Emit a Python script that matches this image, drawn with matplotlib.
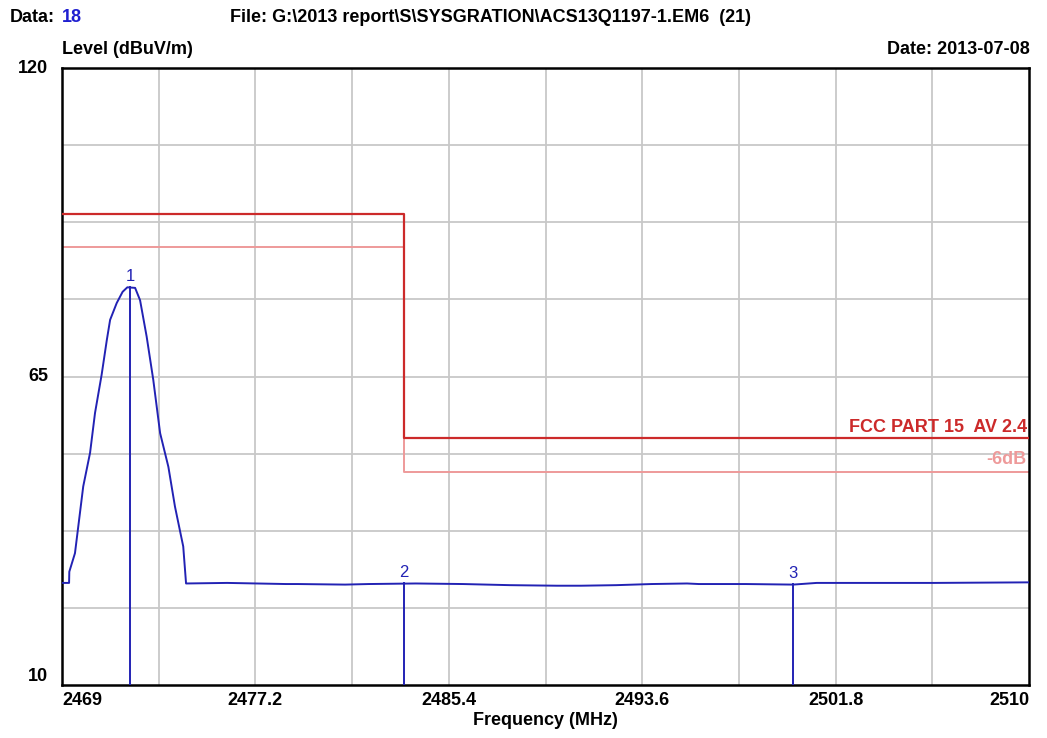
import matplotlib
matplotlib.use("Agg")
import matplotlib.pyplot as plt
import numpy as np

# ---- data ----
trace_freq = [2469.0, 2469.30, 2469.31, 2469.55, 2469.90, 2470.19, 2470.40, 2470.68, 2470.90,
              2471.04, 2471.32, 2471.57, 2471.77, 2472.10, 2472.31, 2472.59, 2472.87, 2473.16,
              2473.51, 2473.79, 2474.14, 2474.26, 2476.0, 2478.5, 2479.0, 2481.0, 2482.0,
              2484.0, 2486.0, 2488.0, 2490.0, 2491.0, 2492.5, 2494.0, 2495.5, 2496.0,
              2498.0, 2500.0, 2501.0, 2503.0, 2506.0, 2510.0]
trace_level = [28.2, 28.2, 30.2, 33.5, 45.4, 51.4, 58.5, 65.3, 71.5,
               75.1, 78.1, 80.1, 80.9, 80.8, 78.6, 72.1, 64.4, 54.9,
               48.9, 41.8, 34.7, 28.1, 28.2, 28.0, 28.0, 27.9, 28.0,
               28.1, 28.0, 27.8, 27.7, 27.7, 27.8, 28.0, 28.1, 28.0,
               28.0, 27.9, 28.2, 28.2, 28.2, 28.3]

limit_freq = [2469.0, 2483.5, 2483.5, 2510.0]
limit_level = [94.0, 94.0, 54.0, 54.0]
margin_db = 6.0

marker_names = ["1", "2", "3"]
marker_freq = [2471.88, 2483.5, 2500.0]
marker_level = [80.9, 28.1, 28.0]

x_ticks = [2469, 2477.2, 2485.4, 2493.6, 2501.8, 2510]
x_tick_labels = ["2469", "2477.2", "2485.4", "2493.6", "2501.8", "2510"]
y_ticks = [10, 65, 120]
y_tick_labels = ["10", "65", "120"]

# ---- style ----
plt.rcParams['font.family'] = ['Liberation Sans Narrow', 'Liberation Sans', 'DejaVu Sans']
BLUE = "#2222b4"
RED = "#cc2a2a"
PINK = "#ee9a9a"
GRID = "#c8c8c8"

fig = plt.figure(figsize=(10.47, 7.38), dpi=100)
ax = fig.add_axes([62/1047, 1-685/738, (1029-62)/1047, (685-68)/738])

xmin, xmax, ymin, ymax = 2469, 2510, 10, 120
ax.set_xlim(xmin, xmax)
ax.set_ylim(ymin, ymax)

for gx in np.linspace(xmin, xmax, 11)[1:-1]:
    ax.axvline(gx, color=GRID, lw=1.3, zorder=1)
for gy in np.linspace(ymin, ymax, 9)[1:-1]:
    ax.axhline(gy, color=GRID, lw=1.3, zorder=1)

ax.plot(limit_freq, limit_level, color=RED, lw=1.6, zorder=3)
ax.plot(limit_freq, [v - margin_db for v in limit_level], color=PINK, lw=1.4, zorder=2)

ax.plot(trace_freq, trace_level, color=BLUE, lw=1.4, zorder=4)

for name, f, lv in zip(marker_names, marker_freq, marker_level):
    ax.plot([f, f], [ymin, lv], color=BLUE, lw=1.4, zorder=4)
    ax.text(f, lv + 0.6, name, color=BLUE, fontsize=12, ha="center", va="bottom",
            family=['Liberation Sans', 'DejaVu Sans'], zorder=5)

ax.text(xmax - 0.1, limit_level[-1] + 0.4, "FCC PART 15  AV 2.4", color=RED,
        fontsize=13, fontweight="bold", ha="right", va="bottom")
ax.text(xmax - 0.1, limit_level[-1] - margin_db + 0.6, "-6dB", color=PINK,
        fontsize=13, fontweight="bold", ha="right", va="bottom")

ax.set_xticks(x_ticks)
ax.set_xticklabels(x_tick_labels, fontsize=13, fontweight="bold")
labs = ax.get_xticklabels()
labs[0].set_ha("left")
labs[-1].set_ha("right")
ax.set_yticks(y_ticks)
ax.set_yticklabels(y_tick_labels, fontsize=13, fontweight="bold")
ax.tick_params(axis="both", length=0, pad=5)
ax.tick_params(axis="y", pad=10)
ylabs = ax.get_yticklabels()
ylabs[0].set_va("bottom")
ylabs[1].set_va("center")
ylabs[2].set_va("center")

for s in ax.spines.values():
    s.set_color("black")
    s.set_linewidth(1.8)

ax.set_xlabel("Frequency (MHz)", fontsize=13, fontweight="bold", labelpad=2)

t_data = fig.text(10/1047, 1-17/738, "Data:", fontsize=13, fontweight="bold", va="center")
fig.canvas.draw()
bb = t_data.get_window_extent()
fig.text((bb.x1 + 7)/1047, 1-17/738, "18", fontsize=13, fontweight="bold", va="center",
         color="#1f1fd0")
fig.text(230/1047, 1-17/738, "File: G:\\2013 report\\S\\SYSGRATION\\ACS13Q1197-1.EM6  (21)",
         fontsize=13, fontweight="bold", va="center")
fig.text(62/1047, 1-50/738, "Level (dBuV/m)", fontsize=13, fontweight="bold", va="center")
fig.text(1030/1047, 1-50/738, "Date: 2013-07-08", fontsize=13, fontweight="bold",
         va="center", ha="right")

fig.savefig("out.png", dpi=100)
